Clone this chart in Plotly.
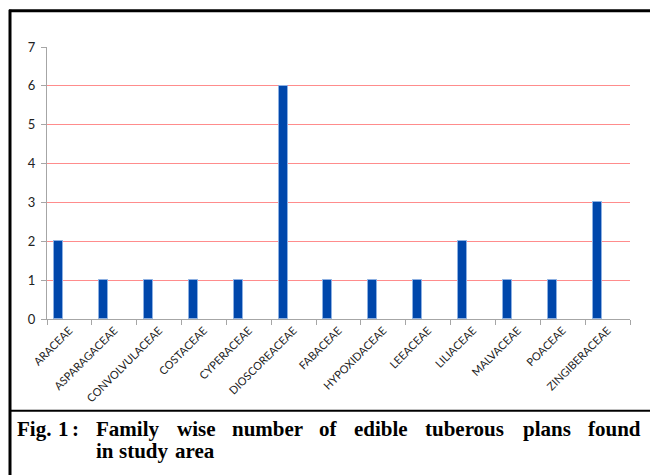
import plotly.graph_objects as go

# Edible tuberous plant families and number of species recorded
families = [
    "ARACEAE", "ASPARAGACEAE", "CONVOLVULACEAE", "COSTACEAE", "CYPERACEAE",
    "DIOSCOREACEAE", "FABACEAE", "HYPOXIDACEAE", "LEEACEAE", "LILIACEAE",
    "MALVACEAE", "POACEAE", "ZINGIBERACEAE",
]
counts = [2, 1, 1, 1, 1, 6, 1, 1, 1, 2, 1, 1, 3]
y_ticks = [0, 1, 2, 3, 4, 5, 6, 7]

caption_label = ["Fig.", "1", ":"]
caption_line1 = ["Family", "wise", "number", "of", "edible", "tuberous", "plans", "found"]
caption_line2 = ["in", "study", "area"]

W, H = 650, 476
PL, PR, PT, PB = 47, 630, 46.5, 319.5  # plot area in pixels (39 px per unit)


def px(x):
    return (x - PL) / (PR - PL)


def py(y):
    return (PB - y) / (PB - PT)


fig = go.Figure()
fig.add_trace(go.Bar(
    x=families, y=counts,
    width=0.2, offset=-0.335,
    marker=dict(color="#0047AB", line=dict(color="#8DB0E2", width=1)),
))

shapes = [
    # outer frame: top and left rules
    dict(type="line", xref="paper", yref="paper", x0=px(9), x1=px(650), y0=py(10), y1=py(10),
         line=dict(color="black", width=3)),
    dict(type="line", xref="paper", yref="paper", x0=px(10), x1=px(10), y0=py(9), y1=py(476),
         line=dict(color="black", width=3)),
    # rule above caption
    dict(type="line", xref="paper", yref="paper", x0=px(9), x1=px(650), y0=py(411.5), y1=py(411.5),
         line=dict(color="black", width=2)),
]

cap_font = dict(family="Liberation Serif", size=21, color="black")


def caption_word(word, x, y):
    return dict(text=f"<b>{word}</b>", xref="paper", yref="paper", x=px(x), y=py(y),
                xanchor="left", yanchor="middle", showarrow=False, font=cap_font)


# justified caption: word start positions in pixels
label_x = [15, 56, 70]
line1_x = [94, 175, 230, 317, 352, 423, 521, 586]
line2_x = [94, 117, 173]

annotations = []
for w, x in zip(caption_label, label_x):
    annotations.append(caption_word(w, x, 429.5))
for w, x in zip(caption_line1, line1_x):
    annotations.append(caption_word(w, x, 429.5))
for w, x in zip(caption_line2, line2_x):
    annotations.append(caption_word(w, x, 451.5))

fig.update_layout(
    width=W, height=H,
    margin=dict(l=PL, r=W - PR, t=PT, b=H - PB),
    paper_bgcolor="white", plot_bgcolor="white",
    showlegend=False,
    bargap=0,
    shapes=shapes,
    annotations=annotations,
    xaxis=dict(
        type="category", tickangle=-45, tickson="boundaries",
        ticks="outside", ticklen=5, tickcolor="#A6A6A6",
        showline=True, linecolor="#A6A6A6", linewidth=1,
        showgrid=False,
        tickfont=dict(family="Lato", size=11, color="#222222"),
        range=[-0.5, 12.5],
    ),
    yaxis=dict(
        range=[0, 7], tickvals=y_ticks,
        ticks="outside", ticklen=5, tickcolor="#A6A6A6",
        showline=True, linecolor="#A6A6A6", linewidth=1,
        showgrid=True, gridcolor="#FF8C8C", gridwidth=1.2,
        zeroline=False, ticklabelstandoff=3,
        tickfont=dict(family="Lato", size=13, color="#222222"),
    ),
)

fig.write_html("out.html")
